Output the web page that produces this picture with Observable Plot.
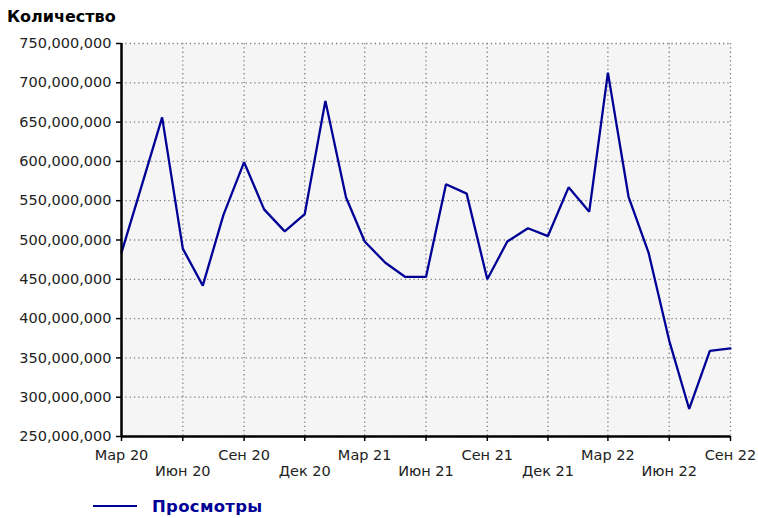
<!DOCTYPE html>
<html>
<head>
<meta charset="utf-8">
<script src="https://cdn.jsdelivr.net/npm/d3@7"></script>
<script src="https://cdn.jsdelivr.net/npm/@observablehq/plot@0.6"></script>
<style>
  html, body { margin: 0; padding: 0; background: #fff; }
  #wrap { position: relative; width: 758px; height: 518px; font-family: "DejaVu Sans", sans-serif; }
  #title { position: absolute; left: 7px; top: 7px; font-weight: bold; font-size: 16px; line-height: 20px; color: #000; }
  #chart { position: absolute; left: 0; top: 28px; }
  #legend { position: absolute; left: 93px; top: 495px; height: 22px; display: flex; align-items: center; }
  #legend .swatch { width: 44px; height: 0; border-top: 2.5px solid #000096; margin-right: 15px; }
  #legend .lab { font-weight: bold; font-size: 16.5px; letter-spacing: 0.3px; color: #000096; }
</style>
</head>
<body>
<div id="wrap">
  <div id="title">Количество</div>
  <div id="chart"></div>
  <div id="legend"><div class="swatch"></div><div class="lab">Просмотры</div></div>
</div>
<script>
const seriesName = "Просмотры";
const months = [
  "2020-03","2020-04","2020-05","2020-06","2020-07","2020-08","2020-09","2020-10","2020-11","2020-12",
  "2021-01","2021-02","2021-03","2021-04","2021-05","2021-06","2021-07","2021-08","2021-09","2021-10",
  "2021-11","2021-12","2022-01","2022-02","2022-03","2022-04","2022-05","2022-06","2022-07","2022-08","2022-09"
];
const views = [
  484e6, 571e6, 656e6, 489e6, 442e6, 532e6, 599e6, 539e6, 511e6, 533e6,
  677e6, 554e6, 498e6, 471e6, 453e6, 453e6, 571e6, 559e6, 450e6, 498e6,
  515e6, 505e6, 567e6, 536e6, 713e6, 555e6, 484e6, 372e6, 285e6, 359e6, 362e6
];
const tickMonths = ["2020-03","2020-06","2020-09","2020-12","2021-03","2021-06","2021-09","2021-12","2022-03","2022-06","2022-09"];
const tickLabels = ["Мар 20","Июн 20","Сен 20","Дек 20","Мар 21","Июн 21","Сен 21","Дек 21","Мар 22","Июн 22","Сен 22"];
const yTicks = [250e6, 300e6, 350e6, 400e6, 450e6, 500e6, 550e6, 600e6, 650e6, 700e6, 750e6];

const toDate = m => new Date(m + "-01T00:00:00Z");
const data = months.map((m, i) => ({date: toDate(m), value: views[i]}));
const tickDates = tickMonths.map(toDate);
const labelOf = new Map(tickDates.map((d, i) => [+d, tickLabels[i]]));
const row1 = tickDates.filter((d, i) => i % 2 === 0);
const row2 = tickDates.filter((d, i) => i % 2 === 1);
const fmt = d3.format(",");

const chart = Plot.plot({
  width: 758,
  height: 462,
  marginTop: 15,
  marginBottom: 54,
  marginLeft: 121,
  marginRight: 28,
  style: {fontFamily: "DejaVu Sans, sans-serif", fontSize: "14.5px", color: "#222", background: "transparent"},
  x: {type: "utc", domain: [tickDates[0], tickDates[tickDates.length - 1]]},
  y: {domain: [250e6, 750e6]},
  marks: [
    Plot.frame({fill: "#f5f5f5", stroke: "none"}),
    Plot.gridY(yTicks, {stroke: "#808080", strokeOpacity: 1, strokeWidth: 1.3, strokeDasharray: "1.3,3"}),
    Plot.gridX(tickDates, {stroke: "#808080", strokeOpacity: 1, strokeWidth: 1.3, strokeDasharray: "1.3,3"}),
    Plot.line(data, {x: "date", y: "value", stroke: "#000096", strokeWidth: 2.3, strokeLinejoin: "miter"}),
    Plot.axisY(yTicks, {tickSize: 5, tickPadding: 5, tickFormat: fmt, stroke: "#000", strokeWidth: 1.5, fill: "#222", label: null, style: {letterSpacing: "0.35px"}}),
    Plot.axisX(row1, {tickSize: 5, tickPadding: 8, tickFormat: d => labelOf.get(+d), stroke: "#000", strokeWidth: 1.5, fill: "#222", label: null}),
    Plot.axisX(row2, {tickSize: 5, tickPadding: 24, tickFormat: d => labelOf.get(+d), stroke: "#000", strokeWidth: 1.5, fill: "#222", label: null}),
    Plot.ruleX([tickDates[0]], {stroke: "#000", strokeWidth: 2.5}),
    Plot.ruleY([250e6], {stroke: "#000", strokeWidth: 2.5})
  ]
});
document.getElementById("chart").appendChild(chart);
</script>
</body>
</html>
